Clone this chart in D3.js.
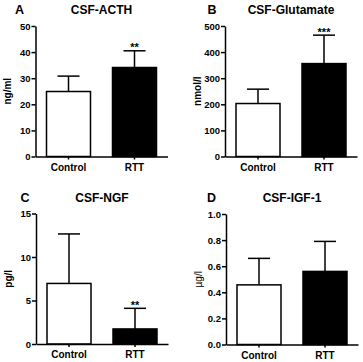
<!DOCTYPE html>
<html>
<head>
<meta charset="utf-8">
<script src="https://cdn.jsdelivr.net/npm/d3@7"></script>
<style>
  body { margin: 0; background: #fff; }
  svg { font-family: Arial, "Liberation Sans", Helvetica, sans-serif; }
  .axis path, .axis line { stroke: #000; stroke-width: 1.5px; }
  .axis text { font-size: 9.5px; font-weight: bold; fill: #000; }
  .xaxis text { font-size: 10px; }
</style>
</head>
<body>
<div id="container"></div>
<script>
// groups and panel texts
var groups = ["Control", "RTT"];
var panelLetters = ["A", "B", "C", "D"];
var panelTitles = ["CSF-ACTH", "CSF-Glutamate", "CSF-NGF", "CSF-IGF-1"];
var unitLabels = ["ng/ml", "nmol/l", "pg/l", "\u00b5g/l"];
var yMax = [50, 500, 15, 1.0];
var yTicks = [
  [0, 10, 20, 30, 40, 50],
  [0, 100, 200, 300, 400, 500],
  [0, 5, 10, 15],
  [0, 0.2, 0.4, 0.6, 0.8, 1.0]
];
var tickFormats = ["d", "d", "d", ".1f"];

// means and upper end of error bars
var acthMeans = [24.9, 34.1], acthErr = [30.8, 40.5];
var glutamateMeans = [203, 356], glutamateErr = [258, 465];
var ngfMeans = [6.96, 1.73], ngfErr = [12.65, 4.1];
var igfMeans = [0.457, 0.56], igfErr = [0.66, 0.79];
var rttStars = ["**", "***", "**", ""];

var means = [acthMeans, glutamateMeans, ngfMeans, igfMeans];
var errs = [acthErr, glutamateErr, ngfErr, igfErr];

// panel placement (axis origin) in the 363x362 frame
var axisX = [35.5, 225, 36, 226],
    axisTop = [26, 26, 213.5, 214],
    plotH = 130.5,
    plotW = 132,
    letterX = [15, 207.5, 20.5, 207];

var svg = d3.select("div#container").append("svg")
    .attr("width", 363)
    .attr("height", 362);

panelTitles.forEach(function(title, p) {
  var g = svg.append("g")
      .attr("transform", "translate(" + axisX[p] + "," + axisTop[p] + ")");

  var x = d3.scaleBand()
      .domain(groups)
      .range([0, plotW])
      .paddingInner(1 / 3)
      .paddingOuter(1 / 6);

  var y = d3.scaleLinear()
      .domain([0, yMax[p]])
      .range([plotH, 0]);

  var data = groups.map(function(gr, i) {
    return { group: gr, mean: means[p][i], err: errs[p][i], star: i == 1 ? rttStars[p] : "" };
  });

  // error bars (upper only) drawn first so the bar covers the base
  var eb = g.selectAll("g.err").data(data).enter().append("g").attr("class", "err");
  eb.append("line")
      .attr("x1", function(d) { return x(d.group) + x.bandwidth() / 2; })
      .attr("x2", function(d) { return x(d.group) + x.bandwidth() / 2; })
      .attr("y1", function(d) { return y(d.mean); })
      .attr("y2", function(d) { return y(d.err); })
      .attr("stroke", "#000").attr("stroke-width", 1.5);
  eb.append("line")
      .attr("x1", function(d) { return x(d.group) + x.bandwidth() / 4; })
      .attr("x2", function(d) { return x(d.group) + x.bandwidth() * 3 / 4; })
      .attr("y1", function(d) { return y(d.err); })
      .attr("y2", function(d) { return y(d.err); })
      .attr("stroke", "#000").attr("stroke-width", 1.5);

  g.selectAll("rect.bar").data(data).enter().append("rect")
      .attr("class", "bar")
      .attr("x", function(d) { return x(d.group); })
      .attr("width", x.bandwidth())
      .attr("y", function(d) { return y(d.mean); })
      .attr("height", function(d) { return plotH - y(d.mean); })
      .attr("fill", function(d, i) { return i == 0 ? "#fff" : "#000"; })
      .attr("stroke", "#000")
      .attr("stroke-width", 1.5);

  // significance stars
  g.selectAll("text.star").data(data).enter().append("text")
      .attr("class", "star")
      .attr("x", function(d) { return x(d.group) + x.bandwidth() / 2; })
      .attr("y", function(d) { return y(d.err) + 0.5; })
      .attr("text-anchor", "middle")
      .style("font-size", "11px")
      .style("font-weight", "bold")
      .text(function(d) { return d.star; });

  // axes
  g.append("g").attr("class", "axis")
      .call(d3.axisLeft(y).tickValues(yTicks[p]).tickSize(4).tickPadding(1)
        .tickSizeOuter(0).tickFormat(d3.format(tickFormats[p])));

  g.append("g").attr("class", "axis xaxis")
      .attr("transform", "translate(0," + plotH + ")")
      .call(d3.axisBottom(x).tickSize(3).tickPadding(4).tickSizeOuter(0));

  // unit label
  g.append("text")
      .attr("transform", "translate(-28," + plotH / 2 + ") rotate(-90)")
      .attr("text-anchor", "middle")
      .attr("dy", "0.35em")
      .style("font-size", "10px")
      .style("font-weight", p == 3 ? "normal" : "bold")
      .text(unitLabels[p]);

  // title and panel letter
  g.append("text")
      .attr("x", plotW / 2)
      .attr("y", -12)
      .attr("text-anchor", "middle")
      .style("font-size", "12px")
      .style("font-weight", "bold")
      .text(title);

  svg.append("text")
      .attr("x", letterX[p])
      .attr("y", axisTop[p] - 12)
      .style("font-size", "12.5px")
      .style("font-weight", "bold")
      .text(panelLetters[p]);
});
</script>
</body>
</html>
